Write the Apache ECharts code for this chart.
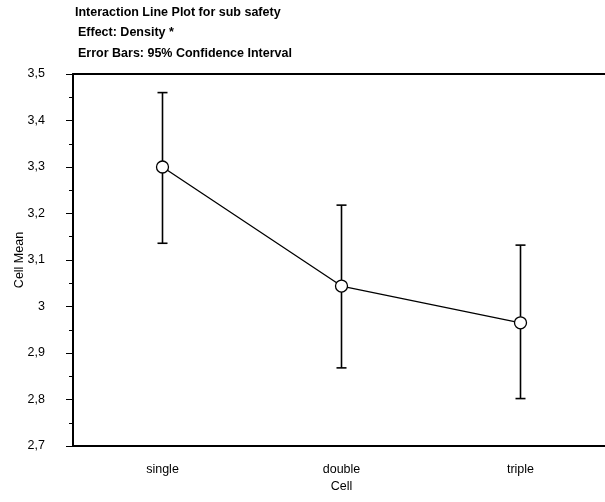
<!DOCTYPE html>
<html>
<head>
<meta charset="utf-8">
<script src="https://cdn.jsdelivr.net/npm/echarts@6/dist/echarts.min.js"></script>
<style>
  html, body { margin: 0; padding: 0; background: #fff; }
  #chart { width: 605px; height: 502px; }
</style>
</head>
<body>
<div id="chart"></div>
<script>
  // chart data
  const categories = ['single', 'double', 'triple']
  const cellMeans = [3.3, 3.044, 2.965]
  // 95% CI bounds
  const ciLower = [3.136, 2.868, 2.802]
  const ciUpper = [3.46, 3.218, 3.132]
  const titleLines = [
    'Interaction Line Plot for sub safety',
    'Effect: Density *',
    'Error Bars: 95% Confidence Interval'
  ]

  const font = 'Arial, "Liberation Sans", sans-serif'
  const black = '#000'
  const fontSize = 12.5

  const errorData = categories.map((c, i) => [i, ciLower[i], ciUpper[i]])

  // vertical bar with caps
  const renderErrorBar = (params, api) => {
    const idx = api.value(0)
    const low = api.coord([idx, api.value(1)])
    const high = api.coord([idx, api.value(2)])
    const half = 5
    const style = { stroke: black, lineWidth: 1.6 }
    return {
      type: 'group',
      children: [
        { type: 'line', shape: { x1: low[0], y1: low[1], x2: high[0], y2: high[1] }, style },
        { type: 'line', shape: { x1: high[0] - half, y1: high[1], x2: high[0] + half, y2: high[1] }, style },
        { type: 'line', shape: { x1: low[0] - half, y1: low[1], x2: low[0] + half, y2: low[1] }, style }
      ]
    }
  }

  const chart = echarts.init(document.getElementById('chart'))
  chart.setOption({
    animation: false,
    textStyle: { fontFamily: font, color: black },
    title: titleLines.map((t, i) => ({
      text: t,
      left: i === 0 ? 75 : 78,
      top: [6, 26, 47][i],
      padding: 0,
      textStyle: { fontSize: fontSize, fontWeight: 'bold', fontFamily: font, color: black }
    })),
    grid: { left: 73, right: -5, top: 74, bottom: 56, outerBoundsMode: 'none' },
    xAxis: [
      {
        type: 'category',
        data: categories,
        boundaryGap: true,
        position: 'bottom',
        axisLine: { lineStyle: { color: black, width: 2 } },
        axisTick: { alignWithLabel: true, length: 5, lineStyle: { color: black, width: 1 } },
        axisLabel: { margin: 17, fontSize: fontSize, color: black, fontFamily: font },
        name: 'Cell',
        nameLocation: 'middle',
        nameGap: 34,
        nameMoveOverlap: false,
        nameTextStyle: { fontSize: fontSize, color: black, fontFamily: font }
      },
      {
        type: 'category',
        data: categories,
        boundaryGap: true,
        position: 'top',
        axisLine: { lineStyle: { color: black, width: 2 } },
        axisTick: { alignWithLabel: true, length: 6, lineStyle: { color: black, width: 1 } },
        axisLabel: { show: false }
      }
    ],
    yAxis: {
      type: 'value',
      min: 2.7,
      max: 3.5,
      interval: 0.1,
      axisLine: { show: true, lineStyle: { color: black, width: 2 } },
      axisTick: { show: true, length: 7, lineStyle: { color: black, width: 1 } },
      minorTick: { show: true, splitNumber: 2, length: 4, lineStyle: { color: black, width: 1 } },
      splitLine: { show: false },
      axisLabel: {
        margin: 28,
        fontSize: fontSize,
        color: black,
        fontFamily: font,
        formatter: (v) => String(+v.toFixed(2)).replace('.', ',')
      },
      name: 'Cell Mean',
      nameLocation: 'middle',
      nameGap: 47,
      nameMoveOverlap: false,
      nameTextStyle: { fontSize: fontSize, color: black, fontFamily: font }
    },
    series: [
      {
        type: 'custom',
        data: errorData,
        renderItem: renderErrorBar,
        z: 2
      },
      {
        type: 'line',
        data: cellMeans,
        symbol: 'circle',
        symbolSize: 12,
        lineStyle: { color: black, width: 1.3 },
        itemStyle: { color: '#fff', borderColor: black, borderWidth: 1.3 },
        z: 3
      }
    ]
  })
</script>
</body>
</html>
